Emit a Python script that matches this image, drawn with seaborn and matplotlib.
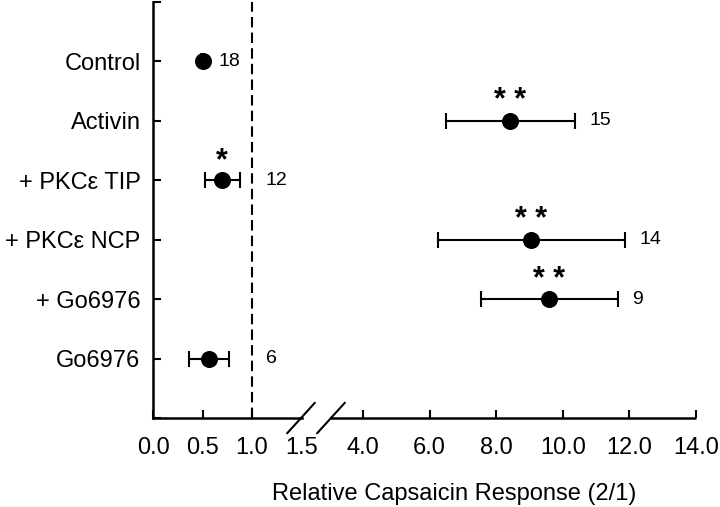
import numpy as np
import pandas as pd
import matplotlib
matplotlib.use("Agg")
import matplotlib.pyplot as plt
import seaborn as sns

# data
groups = ['Control', 'Activin', '+ PKC\u03b5 TIP', '+ PKC\u03b5 NCP', '+ Go6976', 'Go6976']
means = [0.50, 8.43, 0.70, 9.04, 9.59, 0.565]
err_lo = [0.02, 1.93, 0.17, 2.80, 2.05, 0.205]
err_hi = [0.02, 1.95, 0.18, 2.84, 2.08, 0.205]
counts = ['18', '15', '12', '14', '9', '6']
stars = ['', '* *', '*', '* *', '* *', '']
x_ticks = [0.0, 0.5, 1.0, 1.5, 4.0, 6.0, 8.0, 10.0, 12.0, 14.0]

df = pd.DataFrame({'group': groups, 'mean': means, 'lo': err_lo, 'hi': err_hi,
                   'n': counts, 'sig': stars})
df['pos'] = np.arange(len(df))

# broken x axis: 0-1.5 stretched, 4-14 compressed
seg_in = [0.0, 1.5, 4.0, 14.0]
seg_out = [0.0, 3.0, 4.24, 10.97]
def fwd(x):
    return np.interp(x, seg_in, seg_out)
def inv(x):
    return np.interp(x, seg_out, seg_in)

sns.set_theme(style='ticks')
plt.rcParams['font.family'] = ['Liberation Sans', 'DejaVu Sans']

fig = plt.figure(figsize=(7.2, 5.07), dpi=100)
ax = fig.add_axes([0.2125, 0.1755, 0.7542, 0.8205])
ax.set_xscale('function', functions=(fwd, inv))

ax.errorbar(df['mean'], df['pos'], xerr=[df['lo'], df['hi']], fmt='none',
            ecolor='black', elinewidth=1.5, capsize=5.5, capthick=1.5, zorder=2)
sns.scatterplot(data=df, x='mean', y='pos', color='black', s=150,
                edgecolor='black', linewidth=0, zorder=3, ax=ax)

ax.axvline(1.0, color='black', lw=1.5, ls=(0, (5, 2.5)), zorder=1)

for _, r in df.iterrows():
    anchor = r['mean'] + r['hi']
    if r['group'] in ('+ PKC\u03b5 TIP', 'Go6976'):
        anchor = 1.0
    ax.annotate(r['n'], (anchor, r['pos']), xytext=(10, 0), textcoords='offset points',
                ha='left', va='center', fontsize=14, color='black')
    if r['sig']:
        ax.annotate(r['sig'], (r['mean'], r['pos']), xytext=(0, 14), textcoords='offset points',
                    ha='center', va='center', fontsize=22, fontweight='bold', color='black')

ax.set_xlim(0, 14)
ax.set_ylim(6, -1)
ax.set_yticks(np.arange(-1, 7))
ax.set_yticklabels([''] + groups + [''])
ax.set_xticks(x_ticks)
ax.set_xticklabels(['%.1f' % t for t in x_ticks])
ax.xaxis.get_major_ticks()[3].tick1line.set_visible(False)
ax.tick_params(direction='in', length=6, width=1.5, labelsize=17, colors='black')
ax.tick_params(axis='y', pad=9)
ax.tick_params(axis='x', pad=14)
ax.set_ylabel('')
ax.set_xlabel('Relative Capsaicin Response (2/1)', fontsize=17, color='black')
ax.xaxis.set_label_coords(0.554, -0.155)

sns.despine(ax=ax)
for s in ['left', 'bottom']:
    ax.spines[s].set_linewidth(1.8)
    ax.spines[s].set_color('black')
ax.spines['bottom'].set_bounds(0, 1.5)
# rest of the bottom axis after the break
ax.plot([2.68, 14.0], [6, 6], color='black', lw=1.8, clip_on=False,
        solid_capstyle='butt')
# break marks
for xb in [1.495, 2.70]:
    for dx, dy in [(-10, -11), (10, 11)]:
        ax.annotate('', xy=(xb, 6), xycoords='data',
                    xytext=(dx, dy), textcoords='offset points',
                    arrowprops=dict(arrowstyle='-', color='black', lw=1.5,
                                    shrinkA=0, shrinkB=0),
                    annotation_clip=False)

fig.savefig('out.png', dpi=100, facecolor='white')
